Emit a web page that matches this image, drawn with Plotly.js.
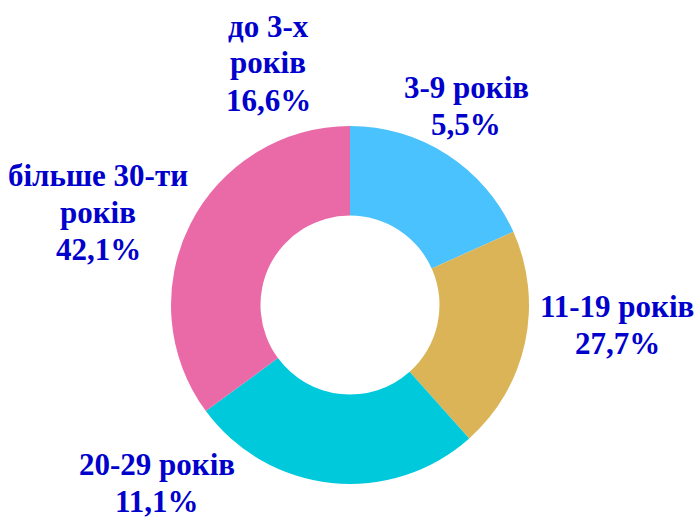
<!DOCTYPE html>
<html>
<head>
<meta charset="utf-8">
<script src="https://cdn.plot.ly/plotly-3.0.1.min.js"></script>
<style>html,body{margin:0;padding:0;background:#fff;}#chart{width:697px;height:518px;}</style>
</head>
<body>
<div id="chart"></div>
<script>
// Slices as drawn (clockwise from 12 o'clock)
const sliceLabels = ["3-9 років", "11-19 років", "20-29 років", "більше 30-ти років"];
const sliceValues = [18.3, 20.1, 26.5, 35.1];
const sliceColors = ["#4AC2FD", "#DBB458", "#00C9DB", "#E96AA7"];

// Data labels as printed on the chart
const labelNames = [["до 3-х", "років"], ["3-9 років"], ["11-19 років"], ["20-29 років"], ["більше 30-ти", "років"]];
const labelPercents = ["16,6%", "5,5%", "27,7%", "11,1%", "42,1%"];

const W = 697, H = 518;
// label block centres in pixels (layout only)
const labelPos = [[268, 63], [466, 106], [617, 325], [157, 483], [98, 212]];
const lineGap = 37;

const annotations = [];
labelNames.forEach((n, i) => {
  const lines = n.concat([labelPercents[i]]);
  lines.forEach((t, k) => {
    const py = labelPos[i][1] + (k - (lines.length - 1) / 2) * lineGap;
    annotations.push({
      text: "<b>" + t + "</b>",
      x: labelPos[i][0] / W, y: 1 - py / H,
      xref: "paper", yref: "paper", xanchor: "center", yanchor: "middle",
      showarrow: false, align: "center",
      font: {family: "'Liberation Serif', serif", size: 31, color: "#0000CC"}
    });
  });
});

const cx = 350, cy = 305, r = 179;
const trace = {
  type: "pie",
  values: sliceValues,
  labels: sliceLabels,
  marker: {colors: sliceColors, line: {width: 0}},
  hole: 0.5,
  sort: false,
  direction: "clockwise",
  rotation: 0,
  textinfo: "none",
  hoverinfo: "label+percent",
  domain: {x: [(cx - r) / W, (cx + r) / W], y: [1 - (cy + r) / H, 1 - (cy - r) / H]}
};

Plotly.newPlot("chart", [trace], {
  width: W, height: H,
  margin: {l: 0, r: 0, t: 0, b: 0},
  showlegend: false,
  paper_bgcolor: "#fff",
  font: {family: "'Liberation Serif', serif"},
  annotations: annotations
}, {displayModeBar: false, staticPlot: true});
</script>
</body>
</html>
